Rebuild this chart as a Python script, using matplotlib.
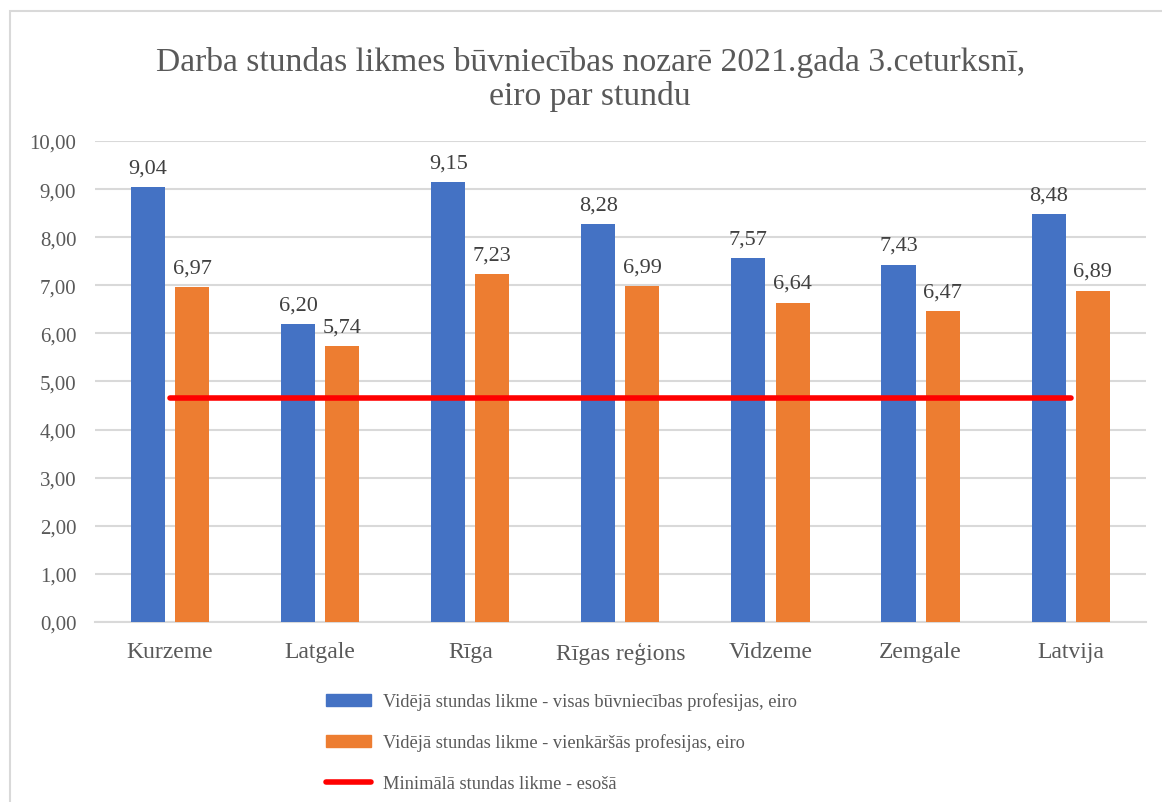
import matplotlib.pyplot as plt
import numpy as np
from matplotlib.patches import Rectangle
from matplotlib.lines import Line2D
from matplotlib.patches import Patch

plt.rcParams['font.family'] = ['Liberation Serif', 'DejaVu Serif']

# Dati
regioni = ["Kurzeme", "Latgale", "Rīga", "Rīgas reģions", "Vidzeme", "Zemgale", "Latvija"]
visas = [9.04, 6.20, 9.15, 8.28, 7.57, 7.43, 8.48]
vienkarsas = [6.97, 5.74, 7.23, 6.99, 6.64, 6.47, 6.89]
minimala = [4.66, 4.66, 4.66, 4.66, 4.66, 4.66, 4.66]

nosaukumi = ["Vidējā stundas likme - visas būvniecības profesijas, eiro",
             "Vidējā stundas likme - vienkāršās profesijas, eiro",
             "Minimālā stundas likme - esošā"]

zils = "#4472C4"
oranzs = "#ED7D31"
sarkans = "#FF0000"
teksts = "#595959"

fig = plt.figure(figsize=(11.62, 8.03), dpi=100)
ax = fig.add_axes([0.0818, 0.2242, 0.9042, 0.599])

x = np.arange(len(regioni))
w = 0.227
off = 0.147
ax.bar(x - off, visas, w, color=zils, zorder=3)
ax.bar(x + off, vienkarsas, w, color=oranzs, zorder=3)
ax.plot(x, minimala, color=sarkans, lw=4, solid_capstyle='round', zorder=4)

for i in range(len(regioni)):
    ax.text(x[i] - off, visas[i] + 0.2, f"{visas[i]:.2f}".replace(".", ","),
            ha='center', va='bottom', fontsize=16, color="#404040")
    ax.text(x[i] + off, vienkarsas[i] + 0.2, f"{vienkarsas[i]:.2f}".replace(".", ","),
            ha='center', va='bottom', fontsize=16, color="#404040")

ax.set_xlim(-0.5, len(regioni) - 0.5)
ax.set_ylim(0, 10)
ax.set_yticks(np.arange(0, 11, 1))
ax.set_yticklabels([f"{v:.2f}".replace(".", ",") for v in np.arange(0, 11, 1)])
ax.set_xticks(x)
ax.set_xticklabels(regioni)
ax.tick_params(axis='both', length=0, labelcolor=teksts)
ax.tick_params(axis='y', pad=13.5, labelsize=15)
ax.tick_params(axis='x', pad=14, labelsize=17)
ax.grid(axis='y', color="#d9d9d9", lw=1.5, zorder=0)
for s in ["top", "right", "left"]:
    ax.spines[s].set_visible(False)
ax.spines["bottom"].set_color("#d9d9d9")
ax.spines["bottom"].set_linewidth(1.5)

fig.text(0.508, 0.901, "Darba stundas likmes būvniecības nozarē 2021.gada 3.ceturksnī,\neiro par stundu",
         ha='center', va='center', fontsize=24.2, color=teksts, linespacing=1.1)

roki = [Patch(color=zils), Patch(color=oranzs), Line2D([0], [0], color=sarkans, lw=4, solid_capstyle='round')]
fig.legend(roki, nosaukumi, loc='upper left', bbox_to_anchor=(0.266, 0.157),
           frameon=False, fontsize=13.2, labelcolor=teksts, handlelength=2.45,
           handleheight=0.6, handletextpad=0.7, labelspacing=1.27)

fig.patches.append(Rectangle((0.009, -0.01), 1.0, 0.995, transform=fig.transFigure,
                             fill=False, edgecolor="#d9d9d9", lw=1.5))

fig.savefig("out.png", dpi=100)
